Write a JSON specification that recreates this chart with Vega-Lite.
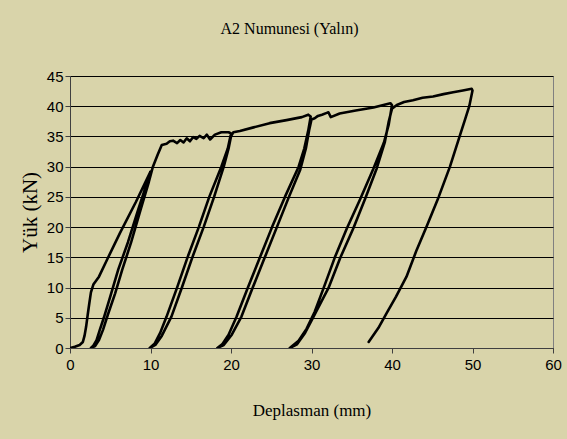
{
  "$schema": "https://vega.github.io/schema/vega-lite/v6.json",
  "width": 483,
  "height": 272,
  "autosize": {"type": "none"},
  "padding": {"left": 70, "top": 76, "right": 14, "bottom": 91},
  "background": "#D9D4AA",
  "title": {"text": "A2 Numunesi (Yalın)", "font": "Liberation Serif", "fontSize": 16, "fontWeight": "normal", "color": "#000000", "offset": 32, "dx": -22, "anchor": "middle"},
  "config": {
    "view": {"stroke": "#808080", "strokeWidth": 1, "fill": "#D9D4AA"},
    "axis": {"labelFlush": false, "labelOverlap": false, "labelBound": false}
  },
  "data": {"values": [
    {"i":0,"x":0,"y":0},{"i":1,"x":0.6,"y":0.2},{"i":2,"x":1.2,"y":0.5},{"i":3,"x":1.6,"y":1.0},{"i":4,"x":1.8,"y":2.0},
    {"i":5,"x":2.0,"y":3.5},{"i":6,"x":2.2,"y":5.5},{"i":7,"x":2.4,"y":7.4},{"i":8,"x":2.6,"y":9.2},{"i":9,"x":2.9,"y":10.5},
    {"i":10,"x":3.6,"y":11.8},{"i":11,"x":4.6,"y":14.6},{"i":12,"x":6.2,"y":19.0},{"i":13,"x":8.2,"y":24.2},{"i":14,"x":10.0,"y":29.2},
    {"i":15,"x":9.6,"y":27.5},{"i":16,"x":8.5,"y":23.0},{"i":17,"x":7.2,"y":17.5},{"i":18,"x":6.0,"y":13.0},{"i":19,"x":5.0,"y":8.5},
    {"i":20,"x":4.2,"y":5.0},{"i":21,"x":3.7,"y":3.0},{"i":22,"x":3.3,"y":1.3},{"i":23,"x":2.9,"y":0.4},{"i":24,"x":2.6,"y":0},
    {"i":25,"x":3.1,"y":0.3},{"i":26,"x":3.6,"y":1.3},{"i":27,"x":4.1,"y":3.0},{"i":28,"x":4.7,"y":5.5},{"i":29,"x":5.6,"y":9.0},
    {"i":30,"x":6.5,"y":13.0},{"i":31,"x":7.6,"y":17.5},{"i":32,"x":8.8,"y":23.0},{"i":33,"x":9.8,"y":27.5},{"i":34,"x":10.3,"y":30.0},
    {"i":35,"x":10.9,"y":32.0},{"i":36,"x":11.4,"y":33.6},{"i":37,"x":12.0,"y":33.8},{"i":38,"x":12.4,"y":34.2},{"i":39,"x":12.8,"y":34.3},
    {"i":40,"x":13.3,"y":33.9},{"i":41,"x":13.7,"y":34.4},{"i":42,"x":14.1,"y":34.0},{"i":43,"x":14.5,"y":34.7},{"i":44,"x":14.9,"y":34.2},
    {"i":45,"x":15.3,"y":34.9},{"i":46,"x":15.7,"y":34.6},{"i":47,"x":16.1,"y":35.1},{"i":48,"x":16.6,"y":34.7},{"i":49,"x":17.0,"y":35.3},
    {"i":50,"x":17.4,"y":34.5},{"i":51,"x":18.0,"y":35.3},{"i":52,"x":18.8,"y":35.7},{"i":53,"x":19.7,"y":35.7},{"i":54,"x":20.0,"y":35.5},
    {"i":55,"x":19.6,"y":33.0},{"i":56,"x":18.8,"y":30.0},{"i":57,"x":17.3,"y":25.0},{"i":58,"x":16.0,"y":20.0},{"i":59,"x":14.6,"y":15.0},
    {"i":60,"x":13.3,"y":10.0},{"i":61,"x":12.0,"y":5.2},{"i":62,"x":11.2,"y":2.5},{"i":63,"x":10.5,"y":0.7},{"i":64,"x":9.9,"y":0},
    {"i":65,"x":10.6,"y":0.5},{"i":66,"x":11.4,"y":2.0},{"i":67,"x":12.6,"y":5.2},{"i":68,"x":13.9,"y":10.0},{"i":69,"x":15.2,"y":15.0},
    {"i":70,"x":16.6,"y":20.0},{"i":71,"x":17.9,"y":25.0},{"i":72,"x":19.1,"y":30.0},{"i":73,"x":19.7,"y":33.0},{"i":74,"x":20.0,"y":35.0},
    {"i":75,"x":20.3,"y":35.7},{"i":76,"x":21.1,"y":35.9},{"i":77,"x":22.8,"y":36.5},{"i":78,"x":24.8,"y":37.2},{"i":79,"x":26.9,"y":37.7},
    {"i":80,"x":28.8,"y":38.2},{"i":81,"x":29.6,"y":38.6},{"i":82,"x":29.9,"y":38.3},
    {"i":83,"x":29.6,"y":36.0},{"i":84,"x":29.1,"y":33.0},{"i":85,"x":28.4,"y":30.0},{"i":86,"x":26.7,"y":25.0},{"i":87,"x":25.1,"y":20.0},
    {"i":88,"x":23.6,"y":15.0},{"i":89,"x":22.1,"y":10.0},{"i":90,"x":20.7,"y":5.2},{"i":91,"x":19.7,"y":2.2},{"i":92,"x":18.9,"y":0.6},
    {"i":93,"x":18.3,"y":0},
    {"i":94,"x":19.1,"y":0.5},{"i":95,"x":20.1,"y":2.2},{"i":96,"x":21.3,"y":5.2},{"i":97,"x":22.7,"y":10.0},{"i":98,"x":24.2,"y":15.0},
    {"i":99,"x":25.7,"y":20.0},{"i":100,"x":27.2,"y":25.0},{"i":101,"x":28.6,"y":29.5},{"i":102,"x":29.3,"y":33.0},{"i":103,"x":29.7,"y":36.0},
    {"i":104,"x":30.0,"y":37.8},{"i":105,"x":30.4,"y":38.0},{"i":106,"x":30.8,"y":38.4},{"i":107,"x":31.3,"y":38.6},{"i":108,"x":31.9,"y":38.9},
    {"i":109,"x":32.1,"y":39.0},{"i":110,"x":32.4,"y":38.2},{"i":111,"x":33.5,"y":38.8},{"i":112,"x":35.5,"y":39.3},{"i":113,"x":37.7,"y":39.8},
    {"i":114,"x":39.8,"y":40.5},{"i":115,"x":40.0,"y":40.2},
    {"i":116,"x":39.6,"y":37.0},{"i":117,"x":39.0,"y":34.0},{"i":118,"x":37.7,"y":29.7},{"i":119,"x":36.0,"y":24.5},{"i":120,"x":34.4,"y":19.8},
    {"i":121,"x":32.9,"y":15.0},{"i":122,"x":31.5,"y":9.9},{"i":123,"x":30.4,"y":6.0},{"i":124,"x":29.4,"y":3.2},{"i":125,"x":28.4,"y":1.2},
    {"i":126,"x":27.3,"y":0},
    {"i":127,"x":28.2,"y":0.6},{"i":128,"x":29.2,"y":2.5},{"i":129,"x":30.5,"y":5.8},{"i":130,"x":32.1,"y":9.9},{"i":131,"x":33.6,"y":15.0},
    {"i":132,"x":35.2,"y":19.8},{"i":133,"x":36.7,"y":24.8},{"i":134,"x":38.1,"y":29.7},{"i":135,"x":39.1,"y":34.0},{"i":136,"x":39.6,"y":37.5},
    {"i":137,"x":40.0,"y":39.6},{"i":138,"x":40.6,"y":40.2},{"i":139,"x":41.5,"y":40.7},{"i":140,"x":42.6,"y":41.0},{"i":141,"x":43.8,"y":41.4},
    {"i":142,"x":45.1,"y":41.6},{"i":143,"x":46.4,"y":42.0},{"i":144,"x":47.6,"y":42.3},{"i":145,"x":48.8,"y":42.6},{"i":146,"x":49.9,"y":42.9},
    {"i":147,"x":50.0,"y":42.6},
    {"i":148,"x":49.6,"y":40.0},{"i":149,"x":49.0,"y":37.5},{"i":150,"x":48.4,"y":35.0},{"i":151,"x":47.2,"y":30.0},{"i":152,"x":45.8,"y":25.0},
    {"i":153,"x":44.3,"y":20.1},{"i":154,"x":43.0,"y":16.0},{"i":155,"x":41.8,"y":11.8},{"i":156,"x":40.5,"y":8.5},{"i":157,"x":39.3,"y":5.7},
    {"i":158,"x":38.3,"y":3.3},{"i":159,"x":37.1,"y":1.0}
  ]},
  "mark": {"type": "line", "color": "#000000", "strokeWidth": 2.6, "strokeJoin": "round", "strokeCap": "round", "clip": true},
  "encoding": {
    "x": {
      "field": "x", "type": "quantitative",
      "scale": {"domain": [0, 60], "nice": false, "zero": false},
      "axis": {
        "values": [0, 10, 20, 30, 40, 50, 60], "grid": false,
        "domainColor": "#404040", "tickColor": "#404040", "tickSize": 5,
        "labelFont": "Liberation Sans", "labelFontSize": 15, "labelColor": "#000000", "labelPadding": 4,
        "title": "Deplasman (mm)", "titleFont": "Liberation Serif", "titleFontSize": 17, "titleFontWeight": "normal", "titleColor": "#000000",
        "titleY": 62, "titleBaseline": "middle"
      }
    },
    "y": {
      "field": "y", "type": "quantitative",
      "scale": {"domain": [0, 45], "nice": false},
      "axis": {
        "values": [0, 5, 10, 15, 20, 25, 30, 35, 40, 45], "grid": true, "gridColor": "#000000", "gridWidth": 1, "gridOpacity": 1,
        "domainColor": "#404040", "tickColor": "#404040", "tickSize": 5,
        "labelFont": "Liberation Sans", "labelFontSize": 15, "labelColor": "#000000", "labelPadding": 2,
        "title": "Yük (kN)", "titleFont": "Liberation Serif", "titleFontSize": 21, "titleFontWeight": "normal", "titleColor": "#000000",
        "titleX": -40, "titleY": 136, "titleAngle": -90, "titleAlign": "center", "titleBaseline": "middle"
      }
    },
    "order": {"field": "i", "type": "quantitative"}
  }
}
